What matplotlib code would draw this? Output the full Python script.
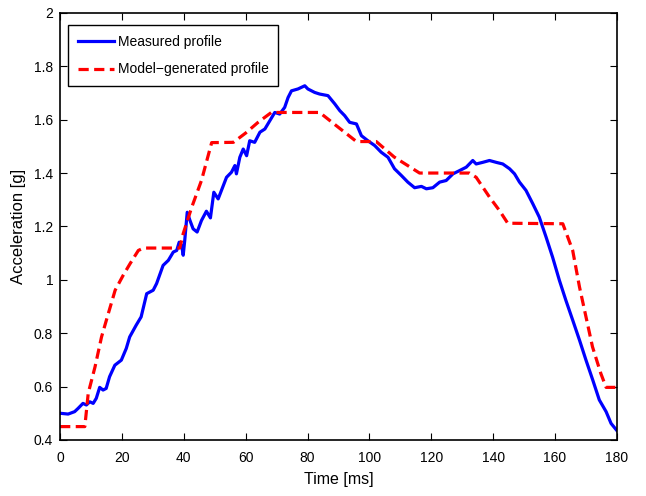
import matplotlib
matplotlib.use("Agg")
import matplotlib.pyplot as plt

# measured profile
t_meas = [0, 2.6, 4.7, 5.8, 7.4, 8.5, 9.6, 10.7, 11.7, 12.8, 13.9, 14.9, 16, 17.7, 19.8,
          21.4, 22.5, 24.6, 26.2, 28, 30.1, 31.2, 33.3, 35, 36.6, 37.7, 38.5, 39.3, 39.8,
          40.3, 41.1, 42, 43, 44.3, 45.7, 47.3, 48.6, 49.7, 51.1, 53.8, 55.4, 56.5, 57,
          58.1, 59.2, 60.3, 61.3, 62.9, 64.6, 66.2, 67.8, 69.4, 71, 72.6, 73.7, 74.8, 76.9,
          79.1, 80.1, 82.3, 83.9, 86.6, 88.8, 90.4, 92, 93.6, 95.8, 97.4, 99.5, 101.7, 103.8,
          106, 108.1, 110.3, 112.4, 114.6, 116.8, 118.4, 120.5, 122.7, 124.8, 127, 129.1,
          131.3, 133.4, 134.5, 136.6, 138.8, 141, 143.1, 145.3, 146.9, 148.5, 150.6, 152.8,
          154.9, 157.1, 159.2, 161.4, 163.5, 165.7, 167.9, 170, 172.2, 174.3, 176.5, 178.1, 180]
a_meas = [0.50, 0.497, 0.506, 0.518, 0.537, 0.531, 0.543, 0.537, 0.556, 0.597, 0.587, 0.593,
          0.637, 0.68, 0.699, 0.743, 0.786, 0.83, 0.861, 0.948, 0.961, 0.986, 1.054, 1.073,
          1.104, 1.11, 1.141, 1.129, 1.092, 1.148, 1.253, 1.222, 1.191, 1.179, 1.222, 1.257,
          1.232, 1.328, 1.303, 1.384, 1.403, 1.428, 1.397, 1.459, 1.49, 1.465, 1.521, 1.515,
          1.553, 1.565, 1.596, 1.627, 1.621, 1.646, 1.683, 1.708, 1.715, 1.727, 1.715, 1.702,
          1.696, 1.69, 1.659, 1.634, 1.615, 1.59, 1.584, 1.54, 1.521, 1.503, 1.478, 1.459,
          1.416, 1.391, 1.366, 1.345, 1.35, 1.341, 1.345, 1.366, 1.372, 1.397, 1.409, 1.422,
          1.447, 1.434, 1.44, 1.447, 1.44, 1.434, 1.416, 1.397, 1.366, 1.335, 1.285, 1.235,
          1.16, 1.085, 0.998, 0.923, 0.849, 0.774, 0.699, 0.624, 0.55, 0.506, 0.462, 0.435]

# model-generated profile
t_model = [0, 8, 9.1, 11.3, 13.4, 15.6, 17.8, 20.4, 22.6, 25.3, 27, 38.7, 39.8, 42.5,
           45.7, 49, 56, 60, 64, 68.3, 83.9, 89, 95.8, 102.2, 108, 116.2, 132.3, 134.5,
           138.8, 142, 144.7, 162.5, 165.7, 167.9, 170, 172.1, 174.8, 176.5, 180]
a_model = [0.45, 0.45, 0.575, 0.674, 0.786, 0.874, 0.961, 1.017, 1.06, 1.11, 1.119, 1.119,
           1.173, 1.27, 1.372, 1.514, 1.515, 1.55, 1.59, 1.627, 1.627, 1.58, 1.518, 1.518,
           1.46, 1.40, 1.40, 1.384, 1.31, 1.26, 1.212, 1.21, 1.11, 0.973, 0.861, 0.749,
           0.649, 0.597, 0.597]

plt.rcParams["font.family"] = ["Liberation Sans", "DejaVu Sans"]

fig = plt.figure(figsize=(6.46, 4.96), dpi=100)
ax = fig.add_axes([0.093, 0.113, 0.862, 0.861])

ax.plot(t_meas, a_meas, color="#0000ff", lw=2.3, label="Measured profile")
ax.plot(t_model, a_model, color="#ff0000", lw=2.3, ls=(0, (3.2, 1.7)),
        label="Model\u2212generated profile")

ax.set_xlim(0, 180)
ax.set_ylim(0.4, 2)
ax.set_xticks(range(0, 181, 20))
ax.set_yticks([0.4, 0.6, 0.8, 1.0, 1.2, 1.4, 1.6, 1.8, 2.0])
ax.set_yticklabels(["0.4", "0.6", "0.8", "1", "1.2", "1.4", "1.6", "1.8", "2"])
ax.tick_params(direction="in", top=True, right=True, length=5, width=0.8, labelsize=10)
ax.tick_params(axis="x", pad=8)
ax.tick_params(axis="y", pad=5)
for s in ax.spines.values():
    s.set_linewidth(1.2)

ax.set_xlabel("Time [ms]", fontsize=11.5, labelpad=5)
ax.set_ylabel("Acceleration [g]", fontsize=12, labelpad=6)

leg = ax.legend(loc="upper left", bbox_to_anchor=(0.014, 0.972), fontsize=10,
                fancybox=False, framealpha=1, edgecolor="black", handlelength=2.6,
                handletextpad=0.3, borderaxespad=0, labelspacing=1.0, borderpad=0.7)
leg.get_frame().set_linewidth(1.0)

fig.savefig("out.png", dpi=100)
